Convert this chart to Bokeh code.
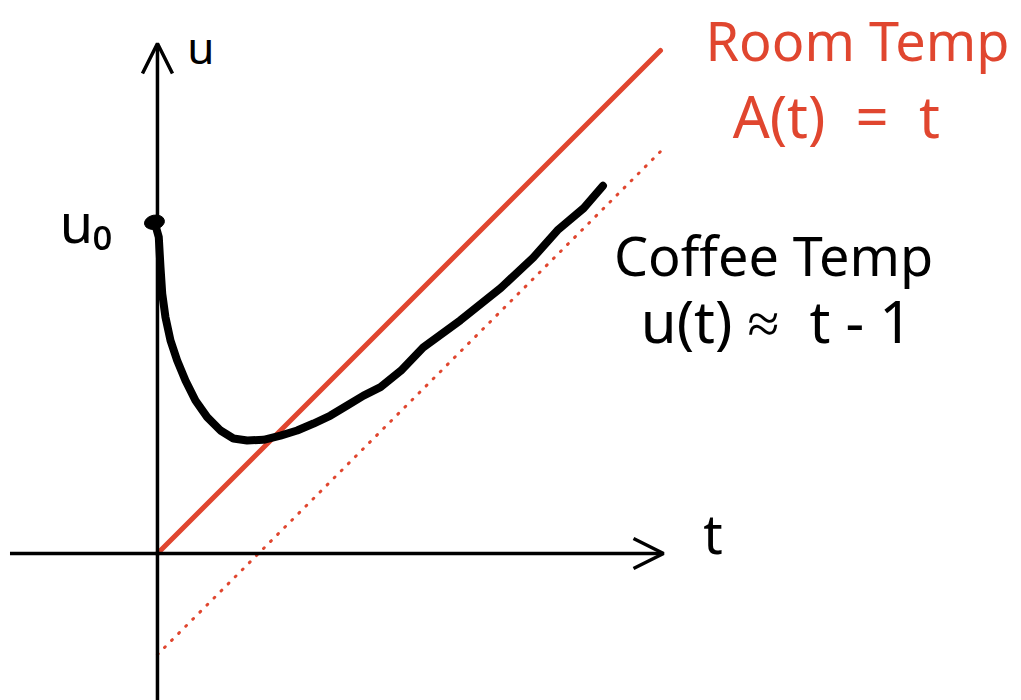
from bokeh.plotting import figure
from bokeh.models import Range1d, Arrow, OpenHead, ColumnDataSource
from bokeh.core.properties import value
from bokeh.embed import file_html
from bokeh.resources import INLINE

# Room temperature A(t) = t
room_t = [0.0, 4.98]
room_u = [0.0, 4.98]

# Long-run behaviour of the coffee: u = t - 1
asym_t = [0.0, 4.98]
asym_u = [-1.0, 3.98]

# Coffee temperature u(t), sketched
coffee_t = [-0.02, 0.013, 0.030, 0.047, 0.079, 0.129, 0.195, 0.277, 0.376,
            0.492, 0.624, 0.752, 0.888, 1.050, 1.218, 1.383, 1.545, 1.713,
            1.878, 2.040, 2.208, 2.41, 2.63, 3.00, 3.40, 3.72, 3.96, 4.22, 4.41]
coffee_u = [3.25, 3.132, 2.835, 2.574, 2.340, 2.109, 1.911, 1.713, 1.515,
            1.350, 1.218, 1.139, 1.119, 1.126, 1.168, 1.218, 1.287, 1.366,
            1.465, 1.564, 1.647, 1.81, 2.04, 2.31, 2.63, 2.93, 3.20, 3.42, 3.64]

# Initial temperature u0
u0_t = [-0.03]
u0_u = [3.28]

# Axis extents
t_axis = [-1.46, 5.01]
u_axis = [-1.46, 5.05]

RED = "#e0462f"
FONT = value("Noto Sans")
NB = "\u00a0"

p = figure(width=1021, height=700, output_backend="svg", toolbar_location=None,
           x_range=Range1d(-1.554, 8.554), y_range=Range1d(-1.455, 5.475),
           min_border=0)
p.axis.visible = False
p.grid.visible = False
p.outline_line_color = None
p.background_fill_color = "white"
p.border_fill_color = "white"

# Axes with open arrow heads
p.add_layout(Arrow(end=OpenHead(size=30, line_width=3.5, line_color="black"),
                   x_start=t_axis[0], y_start=0, x_end=t_axis[1], y_end=0,
                   line_width=3.5, line_color="black"))
p.add_layout(Arrow(end=OpenHead(size=30, line_width=3.5, line_color="black"),
                   x_start=0, y_start=u_axis[0], x_end=0, y_end=u_axis[1],
                   line_width=3.5, line_color="black"))

# Room temperature line and the dotted asymptote
p.line(room_t, room_u, line_color=RED, line_width=5, line_cap="round")
p.line(asym_t, asym_u, line_color=RED, line_width=3, line_dash="1 9",
       line_cap="round")

# Coffee curve and its starting point
p.line(coffee_t, coffee_u, line_color="black", line_width=8,
       line_cap="round", line_join="round")
p.ellipse(x=u0_t, y=u0_u, width=0.2, height=0.14, angle=0.2,
          fill_color="black", line_color="black")

# Axis names
p.text(x=[0.43], y=[5.01], text=["u"], text_align="center",
       text_baseline="alphabetic", text_font=FONT, text_font_size="44px",
       text_color="black")
labels = ColumnDataSource(dict(
    x=[-0.45, 5.50],
    y=[3.28, 0.20],
    text=["u\u2080", "t"],
    align=["right", "center"],
))
p.text(x="x", y="y", text="text", source=labels, text_align="align",
       text_baseline="middle", text_font=FONT, text_font_size="54px",
       text_color="black")

# Annotations
p.text(x=[6.93], y=[5.08], text=["Room Temp"], text_align="center",
       text_baseline="middle", text_font=FONT, text_font_size="54px",
       text_color=RED)
p.text(x=[6.72], y=[4.34], text=[f"A(t){NB}{NB}={NB}{NB}t"],
       text_align="center", text_baseline="middle", text_font=FONT,
       text_font_size="58px", text_color=RED)
p.text(x=[6.10], y=[2.96], text=["Coffee Temp"], text_align="center",
       text_baseline="middle", text_font=FONT, text_font_size="54px",
       text_color="black")
p.text(x=[6.13], y=[2.31], text=[f"u(t){NB}\u2248{NB}{NB}t{NB}-{NB}1"],
       text_align="center", text_baseline="middle", text_font=FONT,
       text_font_size="58px", text_color="black")

open("out.html", "w").write(file_html(p, INLINE))
